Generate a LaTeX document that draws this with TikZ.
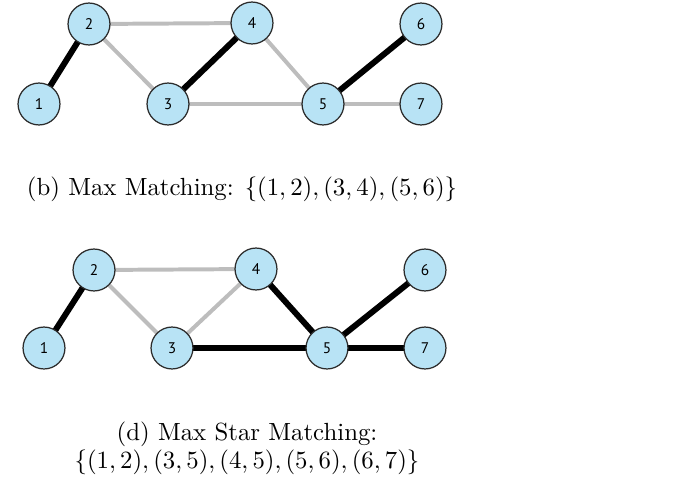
\documentclass[tikz,border=0pt]{standalone}
\usepackage{fontspec}
\newfontfamily\nodefont{PT Sans}
\definecolor{nodefill}{HTML}{B8E3F5}
\definecolor{nodeline}{HTML}{2B2B2B}
\definecolor{lightedge}{HTML}{BDBDBD}
\begin{document}
\begin{tikzpicture}[x=0.403pt,y=-0.403pt,
  vtx/.style={circle,draw=nodeline,line width=0.5pt,fill=nodefill,minimum size=16.9pt,inner sep=0pt,font=\nodefont\fontsize{6.2}{7}\selectfont},
  matched/.style={draw=black,line width=2.4pt},
  unmatched/.style={draw=lightedge,line width=1.6pt},
  captext/.style={anchor=base,inner sep=0pt,font=\fontsize{10}{12}\selectfont}]
\useasboundingbox (0,0) rectangle (689,481);
% top graph
\coordinate (t1) at (39,104);
\coordinate (t2) at (89,24);
\coordinate (t3) at (168,104);
\coordinate (t4) at (252,23);
\coordinate (t5) at (323,104);
\coordinate (t6) at (421,24);
\coordinate (t7) at (421,104);
\draw[matched] (t1) -- (t2);
\draw[unmatched] (t2) -- (t4);
\draw[unmatched] (t2) -- (t3);
\draw[matched] (t3) -- (t4);
\draw[unmatched] (t4) -- (t5);
\draw[unmatched] (t3) -- (t5);
\draw[matched] (t5) -- (t6);
\draw[unmatched] (t5) -- (t7);
\node[vtx] (a1) at (t1) {1};
\node[vtx] (a2) at (t2) {2};
\node[vtx] (a3) at (t3) {3};
\node[vtx] (a4) at (t4) {4};
\node[vtx] (a5) at (t5) {5};
\node[vtx] (a6) at (t6) {6};
\node[vtx] (a7) at (t7) {7};
\node[captext] (capb) at (242,195) {(b) Max Matching: $\{(1,2),(3,4),(5,6)\}$};
% bottom graph
\coordinate (b1) at (44,348);
\coordinate (b2) at (94,270);
\coordinate (b3) at (172,348);
\coordinate (b4) at (256,269);
\coordinate (b5) at (327,348);
\coordinate (b6) at (425,270);
\coordinate (b7) at (425,348);
\draw[matched] (b1) -- (b2);
\draw[unmatched] (b2) -- (b4);
\draw[unmatched] (b2) -- (b3);
\draw[unmatched] (b3) -- (b4);
\draw[matched] (b4) -- (b5);
\draw[matched] (b3) -- (b5);
\draw[matched] (b5) -- (b6);
\draw[matched] (b5) -- (b7);
\node[vtx] (c1) at (b1) {1};
\node[vtx] (c2) at (b2) {2};
\node[vtx] (c3) at (b3) {3};
\node[vtx] (c4) at (b4) {4};
\node[vtx] (c5) at (b5) {5};
\node[vtx] (c6) at (b6) {6};
\node[vtx] (c7) at (b7) {7};
\node[captext] (capd1) at (247,440) {(d) Max Star Matching:};
\node[captext] (capd2) at (247,468) {$\{(1,2),(3,5),(4,5),(5,6),(6,7)\}$};
\end{tikzpicture}
\end{document}
